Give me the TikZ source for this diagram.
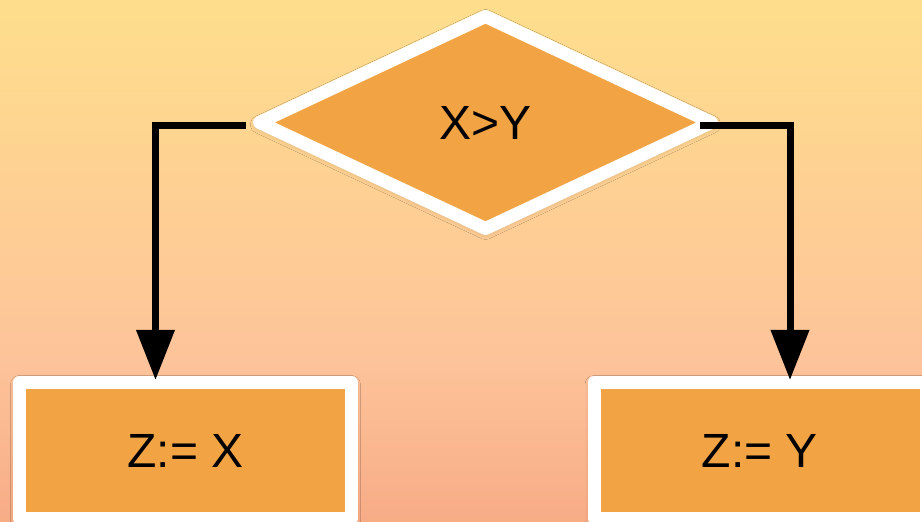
\documentclass[tikz,border=0pt]{standalone}
\usepackage{fontspec}
\setmainfont{Liberation Sans}
\usepackage{xcolor}
\definecolor{bgtop}{HTML}{FEDE8C}
\definecolor{bgmid}{HTML}{FECB96}
\definecolor{bglow}{HTML}{FDC39A}
\definecolor{bgbottom}{HTML}{F7AC86}
\definecolor{boxfill}{HTML}{F2A444}
\usetikzlibrary{shapes.geometric, arrows.meta, positioning, shadows.blur}

\begin{document}
\begin{tikzpicture}[
        x=1pt, y=1pt,
        node distance=154pt,
        decision_node/.style={
            diamond,
            draw=white,
            line width=13pt,
            line join=round,
            fill=boxfill,
            minimum width=452pt,
            minimum height=212pt,
            inner sep=0pt,
            outer sep=0pt,
            font=\fontsize{48}{56}\selectfont,
            blur shadow={shadow blur steps=12, shadow xshift=0pt, shadow yshift=-2pt, shadow blur radius=9pt, shadow opacity=30}
        },
        assign_node/.style={
            rectangle,
            draw=white,
            line width=13pt,
            line join=round,
            fill=boxfill,
            minimum width=332pt,
            minimum height=136pt,
            inner sep=0pt,
            outer sep=0pt,
            font=\fontsize{48}{56}\selectfont,
            blur shadow={shadow blur steps=12, shadow xshift=0pt, shadow yshift=-2pt, shadow blur radius=9pt, shadow opacity=30}
        },
        arrow/.style={
            -{Triangle[width=37pt, length=50pt]},
            draw=black,
            line width=7pt
        }
    ]

    % Background
    \useasboundingbox (0,0) rectangle (922,522);
    \fill[top color=bgtop, bottom color=bgmid] (0,260) rectangle (922,522);
    \fill[top color=bgmid, bottom color=bglow] (0,160) rectangle (922,261);
    \fill[top color=bglow, bottom color=bgbottom] (0,0) rectangle (922,161);

    % Decision
    \node[decision_node] (decision) at (485.5,399.5) {X>Y};

    % Both branches
    \node[assign_node, below=of decision, xshift=-300pt] (box_x) {Z:= X};
    \node[assign_node, below=of decision, xshift=274.5pt] (box_y) {Z:= Y};

    % Connecting Arrows
    \draw[arrow] ([xshift=-13.5pt, yshift=-3pt]decision.west) -| ([xshift=-30pt, yshift=2.5pt]box_x.north);
    \draw[arrow] ([xshift=-11.5pt, yshift=-3pt]decision.east) -| ([xshift=30pt, yshift=2.5pt]box_y.north);

\end{tikzpicture}
\end{document}
